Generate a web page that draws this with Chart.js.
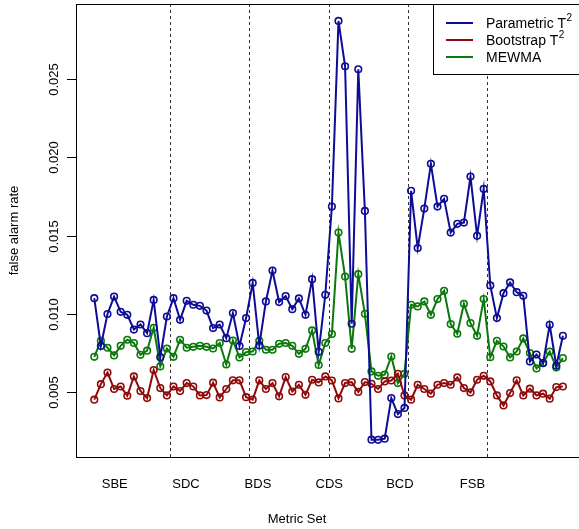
<!DOCTYPE html>
<html>
<head>
<meta charset="utf-8">
<script src="https://cdn.jsdelivr.net/npm/chart.js@4.4.1/dist/chart.umd.min.js"></script>
<style>
  html, body { margin: 0; padding: 0; background: #fff; overflow: hidden; }
  #wrap { width: 579px; height: 529px; }
</style>
</head>
<body>
<div id="wrap"><canvas id="chart" width="579" height="529"></canvas></div>
<script>
// metric set groups (12 runs each) and where R put the axis labels
const groups = ['SBE', 'SDC', 'BDS', 'CDS', 'BCD', 'FSB'];
const groupLabelAt = [4.1, 14.9, 25.8, 36.6, 47.3, 58.3];
const groupBreaks = [12.5, 24.5, 36.5, 48.5, 60.5];

const yTicks = [0.005, 0.010, 0.015, 0.020, 0.025];
const yTickLabels = ['0.005', '0.010', '0.015', '0.020', '0.025'];

const parametricT2 = [
  0.01101, 0.00796, 0.01000, 0.01111, 0.01014, 0.00995, 0.00901, 0.00933, 0.00878, 0.01090, 0.00725, 0.00984,
  0.01101, 0.00963, 0.01084, 0.01059, 0.01052, 0.01022, 0.00910, 0.00933, 0.00846, 0.01006, 0.00796, 0.00974,
  0.01198, 0.00800, 0.01080, 0.01277, 0.01076, 0.01114, 0.01031, 0.01099, 0.00995, 0.01222, 0.00759, 0.01122,
  0.01685, 0.02868, 0.02579, 0.00938, 0.02560, 0.01657, 0.00199, 0.00198, 0.00205, 0.00464, 0.00362, 0.00401,
  0.01785, 0.01420, 0.01672, 0.01957, 0.01685, 0.01734, 0.01519, 0.01575, 0.01583, 0.01876, 0.01498, 0.01797,
  0.01182, 0.00974, 0.01133, 0.01201, 0.01139, 0.01116, 0.00697, 0.00742, 0.00687, 0.00931, 0.00670, 0.00861
];
const bootstrapT2 = [
  0.00454, 0.00553, 0.00627, 0.00522, 0.00538, 0.00479, 0.00602, 0.00509, 0.00464, 0.00643, 0.00528, 0.00481,
  0.00538, 0.00509, 0.00560, 0.00538, 0.00481, 0.00483, 0.00562, 0.00468, 0.00522, 0.00577, 0.00577, 0.00470,
  0.00454, 0.00577, 0.00522, 0.00560, 0.00475, 0.00598, 0.00506, 0.00549, 0.00485, 0.00581, 0.00564, 0.00602,
  0.00576, 0.00462, 0.00560, 0.00566, 0.00503, 0.00566, 0.00555, 0.00522, 0.00570, 0.00576, 0.00619, 0.00481,
  0.00454, 0.00549, 0.00522, 0.00492, 0.00549, 0.00560, 0.00549, 0.00596, 0.00528, 0.00500, 0.00581, 0.00606,
  0.00570, 0.00481, 0.00417, 0.00496, 0.00577, 0.00481, 0.00524, 0.00481, 0.00492, 0.00460, 0.00534, 0.00538
];
const mewma = [
  0.00727, 0.00829, 0.00785, 0.00736, 0.00797, 0.00836, 0.00815, 0.00740, 0.00766, 0.00912, 0.00666, 0.00780,
  0.00727, 0.00836, 0.00785, 0.00791, 0.00797, 0.00791, 0.00780, 0.00815, 0.00678, 0.00831, 0.00723, 0.00757,
  0.00761, 0.00829, 0.00772, 0.00772, 0.00810, 0.00815, 0.00797, 0.00746, 0.00778, 0.00895, 0.00675, 0.00815,
  0.00872, 0.01519, 0.01239, 0.00778, 0.01254, 0.01001, 0.00634, 0.00606, 0.00613, 0.00729, 0.00560, 0.00619,
  0.01059, 0.01048, 0.01080, 0.00995, 0.01095, 0.01148, 0.00936, 0.00874, 0.01065, 0.00942, 0.00861, 0.01095,
  0.00725, 0.00829, 0.00793, 0.00723, 0.00761, 0.00844, 0.00751, 0.00653, 0.00687, 0.00761, 0.00659, 0.00719
];

const FAMILY = '"Liberation Sans", Arial, sans-serif';

function toPoints(arr) {
  return arr.map((v, i) => ({ x: i + 1, y: v }));
}

function series(label, values, color) {
  return {
    label: label,
    data: toPoints(values),
    borderColor: color,
    borderWidth: 2,
    pointRadius: 3.3,
    pointHoverRadius: 3.3,
    pointBorderWidth: 1.6,
    pointBorderColor: color,
    pointBackgroundColor: 'rgba(0,0,0,0)',
    tension: 0,
    fill: false,
  };
}

// box, dashed group separators, rotated y labels, group names, titles, legend
const decorations = {
  id: 'decorations',
  beforeDatasetsDraw(chart) {
    const { ctx, chartArea, scales } = chart;
    ctx.save();
    ctx.strokeStyle = '#333';
    ctx.lineWidth = 1;
    ctx.setLineDash([3, 3]);
    groupBreaks.forEach((b) => {
      const x = Math.round(scales.x.getPixelForValue(b)) + 0.5;
      ctx.beginPath();
      ctx.moveTo(x, chartArea.top);
      ctx.lineTo(x, chartArea.bottom);
      ctx.stroke();
    });
    ctx.restore();
  },
  afterDraw(chart) {
    const { ctx, chartArea, scales } = chart;
    ctx.save();
    ctx.strokeStyle = '#000';
    ctx.lineWidth = 1;
    ctx.setLineDash([]);
    ctx.strokeRect(chartArea.left + 0.5, chartArea.top + 0.5, chartArea.right - chartArea.left + 5, chartArea.bottom - chartArea.top);

    // y ticks
    ctx.font = '13px ' + FAMILY;
    ctx.fillStyle = '#000';
    yTicks.forEach((v, i) => {
      const y = Math.round(scales.y.getPixelForValue(v)) + 0.5;
      ctx.beginPath();
      ctx.moveTo(chartArea.left - 9, y);
      ctx.lineTo(chartArea.left, y);
      ctx.stroke();
      ctx.save();
      ctx.translate(chartArea.left - 22, y);
      ctx.rotate(-Math.PI / 2);
      ctx.textAlign = 'center';
      ctx.textBaseline = 'middle';
      ctx.fillText(yTickLabels[i], 0, 0);
      ctx.restore();
    });

    // y title
    ctx.save();
    ctx.translate(14, (chartArea.top + chartArea.bottom) / 2);
    ctx.rotate(-Math.PI / 2);
    ctx.textAlign = 'center';
    ctx.textBaseline = 'middle';
    ctx.fillText('false alarm rate', 0, 0);
    ctx.restore();

    // group names
    ctx.textAlign = 'center';
    ctx.textBaseline = 'middle';
    groups.forEach((g, i) => {
      ctx.fillText(g, scales.x.getPixelForValue(groupLabelAt[i]), 484);
    });
    ctx.fillText('Metric Set', 297, 519);

    // legend
    const lx = 433.5, ly = 4.5, lw = 160, lh = 70;
    ctx.fillStyle = '#fff';
    ctx.fillRect(lx, ly, lw, lh);
    ctx.strokeStyle = '#000';
    ctx.strokeRect(lx, ly, lw, lh);
    chart.data.datasets.forEach((ds, i) => {
      const y = 23 + i * 17;
      ctx.strokeStyle = ds.borderColor;
      ctx.lineWidth = 2;
      ctx.beginPath();
      ctx.moveTo(446, y);
      ctx.lineTo(473, y);
      ctx.stroke();
      ctx.fillStyle = '#000';
      ctx.textAlign = 'left';
      ctx.textBaseline = 'middle';
      ctx.font = '14px ' + FAMILY;
      if (ds.label.endsWith('²')) {
        const base = ds.label.slice(0, -1);
        ctx.fillText(base, 486, y + 1);
        const w = ctx.measureText(base).width;
        ctx.font = '10px ' + FAMILY;
        ctx.fillText('2', 486 + w + 0.5, y - 5);
      } else {
        ctx.fillText(ds.label, 486, y + 1);
      }
    });
    ctx.restore();
  }
};

new Chart(document.getElementById('chart'), {
  type: 'line',
  data: {
    datasets: [
      series('Parametric T²', parametricT2, '#0c0c96'),
      series('Bootstrap T²', bootstrapT2, '#8f0a0a'),
      series('MEWMA', mewma, '#0a780a'),
    ],
  },
  options: {
    responsive: false,
    animation: false,
    layout: { autoPadding: false, padding: { top: 4, right: 0, left: 0, bottom: 0 } },
    plugins: { legend: { display: false }, tooltip: { enabled: false } },
    scales: {
      x: {
        type: 'linear',
        min: -1.77,
        max: 74.44,
        grid: { display: false, drawTicks: false },
        border: { display: false },
        ticks: { display: false },
        afterFit(scale) { scale.height = 72; },
      },
      y: {
        min: 0.000885,
        max: 0.02976,
        grid: { display: false, drawTicks: false },
        border: { display: false },
        ticks: { display: false },
        afterFit(scale) { scale.width = 76; },
      },
    },
  },
  plugins: [decorations],
});
</script>
</body>
</html>
